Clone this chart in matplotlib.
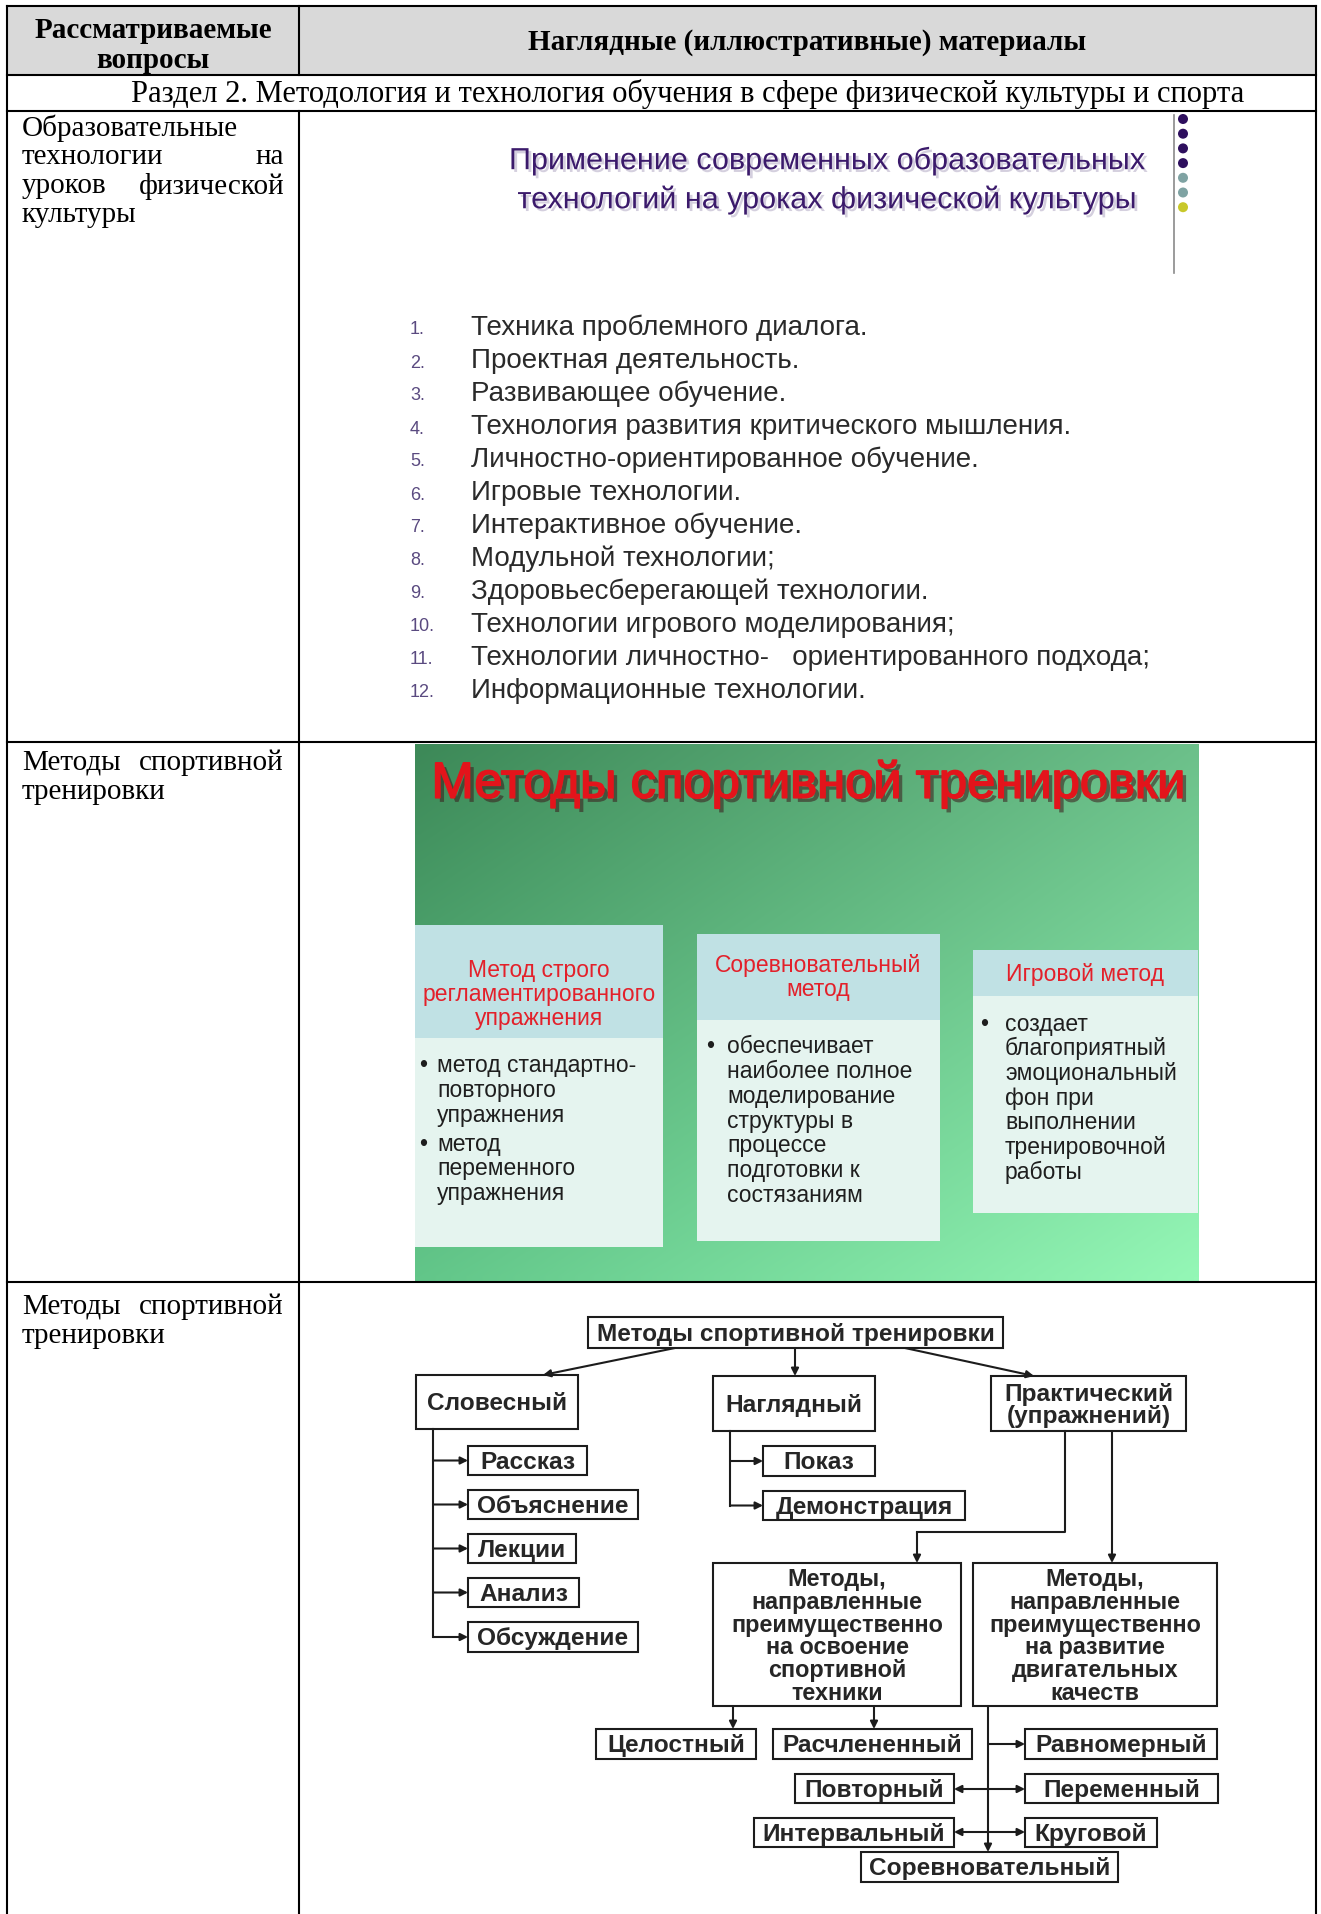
import matplotlib
matplotlib.use("Agg")
import matplotlib.pyplot as plt
import matplotlib.patheffects as pe
from matplotlib import font_manager
from matplotlib.patches import Rectangle, Circle
import numpy as np

# ---------------- data ----------------
header_left = ["Рассматриваемые", "вопросы"]
header_right = "Наглядные (иллюстративные) материалы"
section_title = "Раздел 2. Методология и технология обучения в сфере физической культуры и спорта"

topic_rows = [
    ["Образовательные", "технологии на", "уроков физической", "культуры"],
    ["Методы спортивной", "тренировки"],
    ["Методы спортивной", "тренировки"],
]

slide1_title = ["Применение современных образовательных",
                "технологий на уроках физической культуры"]
slide1_items = [
    "Техника проблемного диалога.",
    "Проектная деятельность.",
    "Развивающее обучение.",
    "Технология развития критического мышления.",
    "Личностно-ориентированное обучение.",
    "Игровые технологии.",
    "Интерактивное обучение.",
    "Модульной технологии;",
    "Здоровьесберегающей технологии.",
    "Технологии игрового моделирования;",
    "Технологии личностно-   ориентированного подхода;",
    "Информационные технологии.",
]
slide1_dots = ["#2e0f5e", "#2e0f5e", "#2e0f5e", "#2e0f5e", "#7fa3a3", "#7fa3a3", "#c8c82a"]

slide2_title = "Методы спортивной тренировки"
slide2_heads = [["Метод строго", "регламентированного", "упражнения"],
                ["Соревновательный", "метод"],
                ["Игровой метод"]]
slide2_bodies = [
    [["метод стандартно-", "повторного", "упражнения"], ["метод", "переменного", "упражнения"]],
    [["обеспечивает", "наиболее полное", "моделирование", "структуры в", "процессе",
      "подготовки к", "состязаниям"]],
    [["создает", "благоприятный", "эмоциональный", "фон при", "выполнении",
      "тренировочной", "работы"]],
]

chart_labels = {
    "root": "Методы спортивной тренировки",
    "verbal": "Словесный",
    "visual": "Наглядный",
    "practical": "Практический\n(упражнений)",
    "story": "Рассказ",
    "explain": "Объяснение",
    "lecture": "Лекции",
    "analysis": "Анализ",
    "discuss": "Обсуждение",
    "show": "Показ",
    "demo": "Демонстрация",
    "tech": "Методы,\nнаправленные\nпреимущественно\nна освоение\nспортивной\nтехники",
    "qual": "Методы,\nнаправленные\nпреимущественно\nна развитие\nдвигательных\nкачеств",
    "whole": "Целостный",
    "parts": "Расчлененный",
    "uniform": "Равномерный",
    "repeat": "Повторный",
    "variable": "Переменный",
    "interval": "Интервальный",
    "circuit": "Круговой",
    "compet": "Соревновательный",
}

# ---------------- layout (pixels) ----------------
W, H = 1321, 1915
X0, XDIV, X1 = 7, 299, 1316
Y_TOP, Y_HEAD, Y_SEC, Y_R1, Y_R2 = 7, 76, 112, 743, 1283

chart_boxes = {
    "root": (588, 1318, 1003, 1349),
    "verbal": (416, 1376, 578, 1430),
    "visual": (713, 1377, 875, 1432),
    "practical": (991, 1377, 1186, 1432),
    "story": (468, 1447, 587, 1476),
    "explain": (468, 1491, 638, 1520),
    "lecture": (468, 1535, 576, 1564),
    "analysis": (468, 1579, 579, 1608),
    "discuss": (468, 1623, 638, 1653),
    "show": (763, 1447, 875, 1477),
    "demo": (763, 1492, 965, 1521),
    "tech": (713, 1564, 961, 1707),
    "qual": (973, 1564, 1217, 1707),
    "whole": (596, 1730, 756, 1760),
    "parts": (773, 1730, 972, 1760),
    "uniform": (1025, 1730, 1217, 1760),
    "repeat": (795, 1775, 954, 1804),
    "variable": (1025, 1775, 1218, 1804),
    "interval": (754, 1819, 954, 1848),
    "circuit": (1025, 1819, 1157, 1848),
    "compet": (861, 1853, 1118, 1883),
}

names = {f.name for f in font_manager.fontManager.ttflist}
SERIF = "Liberation Serif"
SANS = "Liberation Sans"
if "Liberation Sans Narrow" in names:
    LIST_FONT, LIST_SIZE = "Liberation Sans Narrow", 22.5
else:
    LIST_FONT, LIST_SIZE = "Liberation Sans", 20
FS = 21

fig = plt.figure(figsize=(W / 100, H / 100), dpi=100)
ax = fig.add_axes([0, 0, 1, 1])

# green slide background (gradient)
ny, nx = 60, 80
u = np.linspace(0, 1, nx)[None, :, None]
v = np.linspace(0, 1, ny)[:, None, None]
c_tl = np.array(matplotlib.colors.to_rgb("#3d8958"))
c_tr = np.array(matplotlib.colors.to_rgb("#6cc08a"))
c_bl = np.array(matplotlib.colors.to_rgb("#62c689"))
c_br = np.array(matplotlib.colors.to_rgb("#94f7b6"))
grad = (1 - u) * (1 - v) * c_tl + u * (1 - v) * c_tr + (1 - u) * v * c_bl + u * v * c_br
ax.imshow(grad, extent=(415, 1199, 1282, 745), aspect="auto", interpolation="bilinear", zorder=1)

ax.set_xlim(0, W)
ax.set_ylim(H, 0)
ax.axis("off")

# ---------------- table ----------------
ax.add_patch(Rectangle((X0, Y_TOP), X1 - X0, Y_HEAD - Y_TOP, facecolor="#d9d9d9", edgecolor="none", zorder=0))
lw = 1.5
for y in (Y_TOP, Y_HEAD, Y_SEC, Y_R1, Y_R2):
    ax.plot([X0, X1], [y, y], color="black", lw=lw, zorder=5, solid_capstyle="projecting")
ax.plot([X0, X0], [Y_TOP, H], color="black", lw=lw, zorder=5)
ax.plot([X1, X1], [Y_TOP, H], color="black", lw=lw, zorder=5)
ax.plot([XDIV, XDIV], [Y_TOP, Y_HEAD], color="black", lw=lw, zorder=5)
ax.plot([XDIV, XDIV], [Y_SEC, H], color="black", lw=lw, zorder=5)

ax.text((X0 + XDIV) / 2, 30, header_left[0], family=SERIF, weight="bold", fontsize=FS,
        ha="center", va="center")
ax.text((X0 + XDIV) / 2, 61, header_left[1], family=SERIF, weight="bold", fontsize=FS,
        ha="center", va="center")
ax.text((XDIV + X1) / 2, 43, header_right, family=SERIF, weight="bold", fontsize=FS,
        ha="center", va="center")
ax.text(688, 94, section_title, family=SERIF, fontsize=22, ha="center", va="center")

row_y0 = [128, 763, 1307]
for lines, y0 in zip(topic_rows, row_y0):
    for i, line in enumerate(lines):
        y = y0 + i * 29
        words = line.split()
        last = i == len(lines) - 1
        if len(words) == 2 and not last:
            ax.text(22, y, words[0], family=SERIF, fontsize=FS, ha="left", va="center")
            ax.text(284, y, words[1], family=SERIF, fontsize=FS, ha="right", va="center")
        else:
            ax.text(22, y, line, family=SERIF, fontsize=FS, ha="left", va="center")

# ---------------- slide 1 ----------------
shadow = [pe.withSimplePatchShadow(offset=(2, -2), shadow_rgbFace="#b8b0c8", alpha=0.6)]
for i, line in enumerate(slide1_title):
    ax.text(826, 162 + i * 39, line, family=SANS, fontsize=22, color="#3b1a6b",
            ha="center", va="center", path_effects=shadow)
ax.plot([1174, 1174], [116, 274], color="#8a8a8a", lw=1.2)
for i, c in enumerate(slide1_dots):
    ax.add_patch(Circle((1183, 120 + i * 14.7), 5, facecolor=c, edgecolor="none"))
for i, item in enumerate(slide1_items):
    y = 328 + i * 33
    ax.text(410, y + 2, f"{i + 1}.", family=SANS, fontsize=13, color="#5a4a80", ha="left", va="center")
    ax.text(471, y, item, family=LIST_FONT, fontsize=LIST_SIZE, color="#2a2a2a", ha="left", va="center")

# ---------------- slide 2 ----------------
red_fx = [pe.withSimplePatchShadow(offset=(3, -3), shadow_rgbFace="#3a1a1a", alpha=0.55),
          pe.withStroke(linewidth=1.2, foreground="#e3141b")]
ax.text(809, 785, slide2_title, family=SANS, fontsize=36.5, color="#e3141b",
        ha="center", va="center", path_effects=red_fx, zorder=3)

box_cols = [(415, 663), (697, 940), (973, 1198)]
box_rows = [(926, 1039, 1248), (935, 1021, 1242), (951, 997, 1214)]
head_y = [971, 966, 975]
body_y = [1066, 1047, 1024]
bullet_dx = [4, 9, 7]
text_dx = [22, 30, 32]
for k in range(3):
    xa, xb = box_cols[k]
    ya, ym, yb = box_rows[k]
    ax.add_patch(Rectangle((xa, ya), xb - xa, ym - ya, facecolor="#c0e1e4", edgecolor="none", zorder=2))
    ax.add_patch(Rectangle((xa, ym), xb - xa, yb - ym, facecolor="#e5f4ef", edgecolor="none", zorder=2))
    for i, line in enumerate(slide2_heads[k]):
        ax.text((xa + xb) / 2, head_y[k] + i * 23.5, line, family=SANS, fontsize=16.5,
                color="#e3202a", ha="center", va="center", zorder=3)
    y = body_y[k]
    for bullet in slide2_bodies[k]:
        for j, line in enumerate(bullet):
            if j == 0:
                ax.text(xa + bullet_dx[k], y, "•", family=SANS, fontsize=16.5, color="#1e1e1e",
                        ha="left", va="center", zorder=3)
            ax.text(xa + text_dx[k], y, line, family=SANS, fontsize=16.5, color="#1e1e1e",
                    ha="left", va="center", zorder=3)
            y += 24.7
        y += 4

# ---------------- flowchart ----------------
ink = "#1c1c1c"
for key, (xa, ya, xb, yb) in chart_boxes.items():
    ax.add_patch(Rectangle((xa, ya), xb - xa, yb - ya, facecolor="white", edgecolor=ink, lw=1.5, zorder=4))
    multi = "\n" in chart_labels[key] and chart_labels[key].count("\n") > 1
    ax.text((xa + xb) / 2, (ya + yb) / 2 + 1, chart_labels[key], family=SANS, weight="bold",
            fontsize=16.8 if multi else 17.6, color="#262626", ha="center", va="center",
            linespacing=0.98, zorder=5)


def arrow(p0, p1, style="-|>"):
    ax.annotate("", xy=p1, xytext=p0,
                arrowprops=dict(arrowstyle=style, color=ink, lw=1.5, mutation_scale=11,
                                shrinkA=0, shrinkB=0), zorder=4)


def path(points, style="-|>"):
    xs = [p[0] for p in points[:-1]]
    ys = [p[1] for p in points[:-1]]
    if len(points) > 2:
        ax.plot(xs, ys, color=ink, lw=1.5, zorder=4)
    arrow(points[-2], points[-1], style)


arrow((675, 1349), (543, 1376))
arrow((795, 1349), (795, 1377))
arrow((905, 1349), (1034, 1377))

verbal_kids = ["story", "explain", "lecture", "analysis", "discuss"]
mids = [(chart_boxes[k][1] + chart_boxes[k][3]) / 2 for k in verbal_kids]
ax.plot([433, 433], [1430, mids[-1]], color=ink, lw=1.5, zorder=4)
for m in mids:
    arrow((433, m), (468, m))

visual_kids = ["show", "demo"]
mids = [(chart_boxes[k][1] + chart_boxes[k][3]) / 2 for k in visual_kids]
ax.plot([730, 730], [1432, mids[-1]], color=ink, lw=1.5, zorder=4)
for m in mids:
    arrow((730, m), (763, m))

path([(1065, 1432), (1065, 1533), (917, 1533), (917, 1564)])
arrow((1112, 1432), (1112, 1564))
arrow((733, 1707), (733, 1730))
arrow((874, 1707), (874, 1730))
arrow((988, 1707), (988, chart_boxes["compet"][1]))
arrow((988, 1745), (1025, 1745))
arrow((954, 1790), (1025, 1790), "<|-|>")
arrow((954, 1833), (1025, 1833), "<|-|>")

fig.savefig("out.png", dpi=100)
